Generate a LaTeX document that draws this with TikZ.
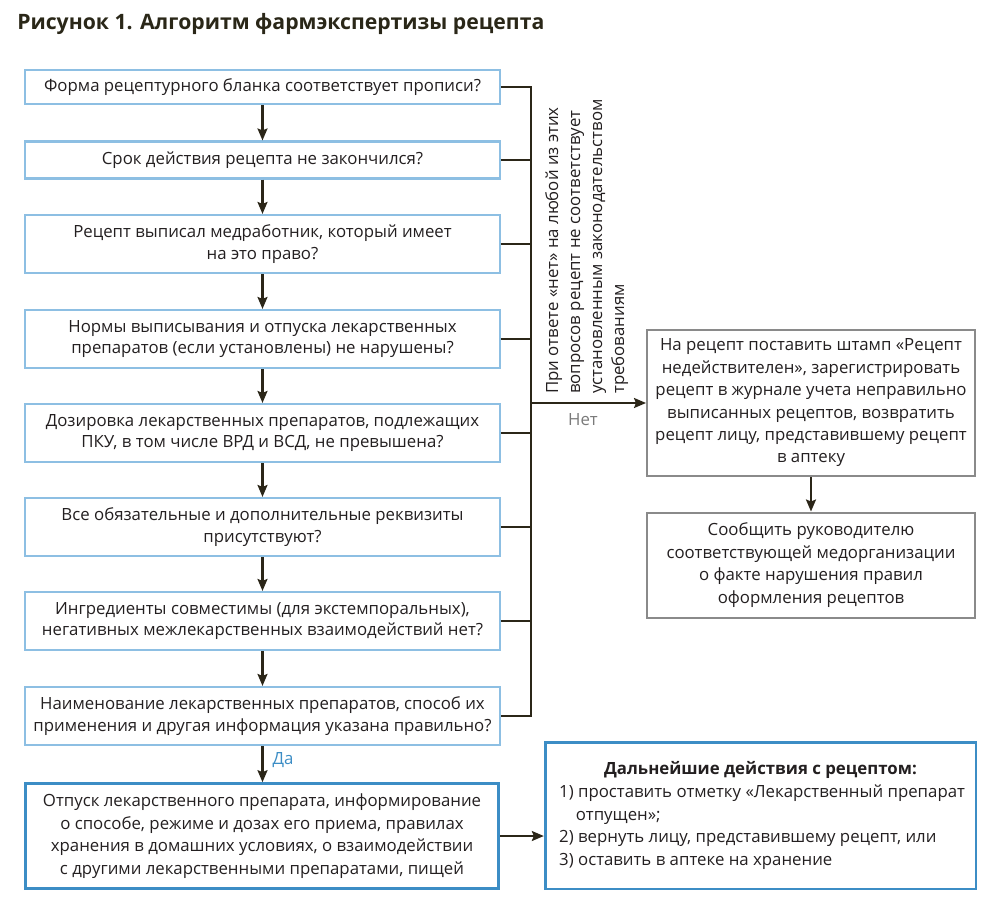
\documentclass[tikz,border=0pt]{standalone}
\usepackage{fontspec}
\setmainfont{Open Sans}
\usetikzlibrary{arrows.meta}
\definecolor{lineC}{HTML}{2B2618}
\definecolor{lblue}{HTML}{8DBFE3}
\definecolor{dblue}{HTML}{3C8DC5}
\definecolor{gbox}{HTML}{8A8A8A}
\definecolor{txt}{HTML}{231F20}
\definecolor{ttl}{HTML}{2A2718}
\definecolor{netC}{HTML}{7A7A7A}
\begin{document}
\begin{tikzpicture}[x=0.75pt,y=-0.75pt,
  font=\fontsize{12.6}{16}\selectfont, text=txt,
  qbox/.style={draw=lblue, line width=1.6pt, minimum width=356pt, align=center, inner sep=2pt},
  gbox/.style={draw=gbox, line width=1.5pt, minimum width=246pt, align=center, inner sep=2pt},
  bbox/.style={draw=dblue, line width=2pt, align=center, inner sep=2pt},
  conn/.style={draw=lineC, line width=1.6pt},
  arr/.style={conn, -{Stealth[length=9pt,width=7.5pt,inset=1.5pt]}},
]
\useasboundingbox (0,0) rectangle (1000,908);
\node[anchor=west, inner sep=0, font=\fontsize{15.9}{18}\selectfont\bfseries, text=ttl] (title) at (17,24) {Рисунок 1. Алгоритм фармэкспертизы рецепта};

\node[qbox, minimum height=25.5pt] (b1) at (262.5,87) {Форма рецептурного бланка соответствует прописи?};
\node[qbox, minimum height=27.75pt] (b2) at (262.5,160) {Срок действия рецепта не закончился?};
\node[qbox, minimum height=43.5pt] (b3) at (262.5,244) {Рецепт выписал медработник, который имеет\\на это право?};
\node[qbox, minimum height=43.5pt] (b4) at (262.5,339) {Нормы выписывания и отпуска лекарственных\\препаратов (если установлены) не нарушены?};
\node[qbox, minimum height=43.5pt] (b5) at (262.5,433) {Дозировка лекарственных препаратов, подлежащих\\ПКУ, в том числе ВРД и ВСД, не превышена?};
\node[qbox, minimum height=43.5pt] (b6) at (262.5,527) {Все обязательные и дополнительные реквизиты\\присутствуют?};
\node[qbox, minimum height=43.5pt] (b7) at (262.5,621) {Ингредиенты совместимы (для экстемпоральных),\\негативных межлекарственных взаимодействий нет?};
\node[qbox, minimum height=43.5pt] (b8) at (262.5,716) {Наименование лекарственных препаратов, способ их\\применения и другая информация указана правильно?};
\node[bbox, minimum width=355pt, minimum height=78.75pt, font=\fontsize{12.6}{17}\selectfont] (b9) at (262,836) {Отпуск лекарственного препарата, информирование\\о способе, режиме и дозах его приема, правилах\\хранения в домашних условиях, о взаимодействии\\с другими лекарственными препаратами, пищей};

\node[gbox, minimum height=109.5pt, font=\fontsize{12.6}{16.8}\selectfont] (r1) at (811,403) {На рецепт поставить штамп «Рецепт\\недействителен», зарегистрировать\\рецепт в журнале учета неправильно\\выписанных рецептов, возвратить\\рецепт лицу, представившему рецепт\\в аптеку};
\node[gbox, minimum height=78.75pt, font=\fontsize{12.6}{16.8}\selectfont] (r2) at (811,565) {Сообщить руководителю\\соответствующей медорганизации\\о факте нарушения правил\\оформления рецептов};

\node[bbox, minimum width=323pt, minimum height=110pt, align=left] (r3) at (760.5,815.5) {%
\begin{minipage}{302pt}\fontsize{12.6}{17}\selectfont
{\centering\bfseries Дальнейшие действия с рецептом:\par}
\raggedright
\mbox{1) проставить отметку «Лекарственный препарат}\\
\hspace*{1em}отпущен»;\\
\mbox{2) вернуть лицу, представившему рецепт, или}\\
3) оставить в аптеке на хранение
\end{minipage}};

\coordinate (vtop) at (531,87);
\draw[conn] (b1.east) -- (b1.east -| vtop) -- (b8.east -| vtop) -- (b8.east);
\foreach \b in {b2,b3,b4,b5,b6,b7} \draw[conn] (\b.east) -- (\b.east -| vtop);
\draw[arr] (r1.west -| vtop) -- (r1.west);
\node[text=netC, inner sep=0] (net) at (583,420) {Нет};

\node[rotate=90, anchor=north west, align=left, inner sep=0, font=\fontsize{12.6}{16.5}\selectfont] (note) at (545,394) {При ответе «нет» на любой из этих\\вопросов рецепт не соответствует\\установленным законодательством\\требованиям};

\draw[arr] (b1) -- (b2);
\draw[arr] (b2) -- (b3);
\draw[arr] (b3) -- (b4);
\draw[arr] (b4) -- (b5);
\draw[arr] (b5) -- (b6);
\draw[arr] (b6) -- (b7);
\draw[arr] (b7) -- (b8);
\draw[arr] (b8) -- (b9.north -| b8);
\node[text=dblue, inner sep=0] (da) at (283,760) {Да};
\draw[arr] (r1) -- (r2);
\draw[arr] (b9.east) -- (r3.west |- b9.east);
\end{tikzpicture}
\end{document}
